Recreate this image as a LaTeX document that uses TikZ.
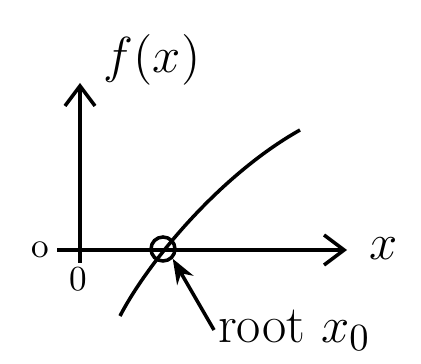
\documentclass[tikz,border=0pt]{standalone}
\usetikzlibrary{arrows.meta,calc,positioning}

\begin{document}
\begin{tikzpicture}[x=0.01cm,y=-0.01cm,
every node/.style={inner sep=1pt},
axis/.style={line width=1pt,-{Straight Barb[length=2mm,width=3mm]}},
lbl/.style={font=\fontsize{15}{17}\selectfont}]
\useasboundingbox (0,0) rectangle (421,364);
\coordinate (O) at (80,250);
\coordinate (Xs) at (57,250);
\coordinate (Xe) at (347,250);
\coordinate (Ys) at (80,263);
\coordinate (Ye) at (80,83);
\coordinate (C0) at (120,316);
\coordinate (C1) at (300,130);
\node[lbl] (fx) at (152,60) {$f(x)$};
\node[lbl] (xx) at (384,249) {$x$};
\node (zl) at (40,250) {o};
\node (zb) at (78,279) {0};
\node[circle,draw,line width=1pt,minimum size=0.24cm] (R) at (163,249) {};
\node[lbl,anchor=west] (root) at (214,330) {root $x_0$};
\draw[axis] (Xs)--(Xe);
\draw[axis] (Ys)--(Ye);
\draw[line width=1pt] (C0) .. controls (148,262) and (220,175) .. (C1);
\draw[line width=1pt,-{Stealth[length=2.5mm]}] (root.west)--(R.south east);
\end{tikzpicture}
\end{document}
